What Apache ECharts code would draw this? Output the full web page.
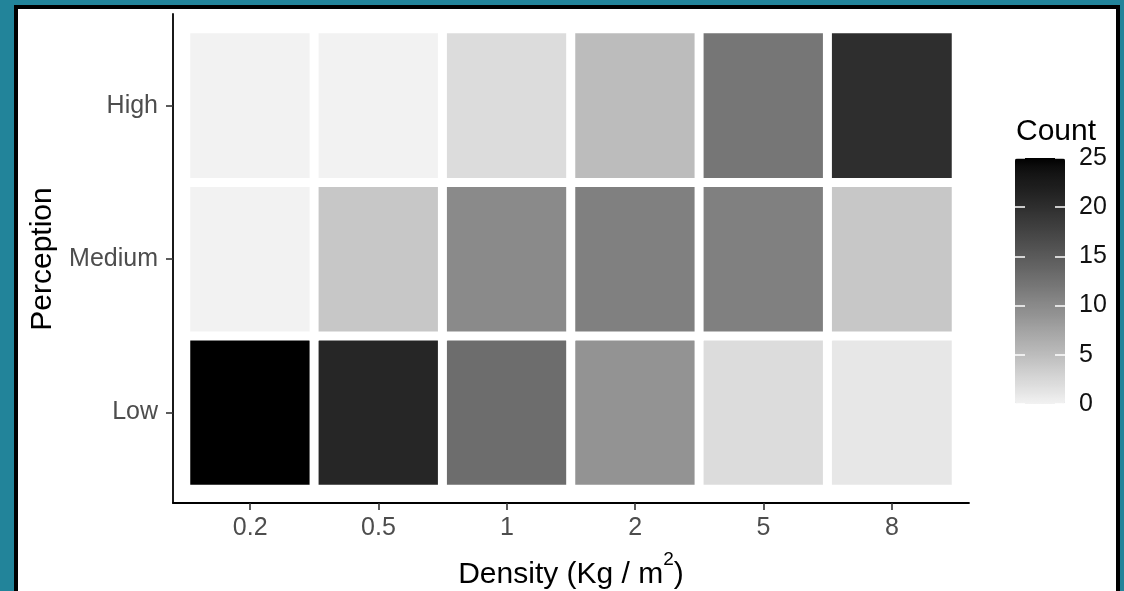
<!DOCTYPE html>
<html>
<head>
<meta charset="utf-8">
<script src="https://cdn.jsdelivr.net/npm/echarts@6/dist/echarts.min.js"></script>
<style>
  html, body { margin:0; padding:0; width:1124px; height:591px; overflow:hidden; background:#22849a; }
  #frame { position:absolute; left:14px; top:5px; width:1098px; height:640px; border:4px solid #000; background:#fff; }
  #chart { position:absolute; left:0; top:0; width:1124px; height:591px; }
</style>
</head>
<body>
<div id="frame"></div>
<div id="chart"></div>
<script>
// ---- data ----
const densities = ['0.2', '0.5', '1', '2', '5', '8'];
const perceptions = ['Low', 'Medium', 'High'];
const lowCounts = [25, 21, 13, 9, 2, 1];
const mediumCounts = [0, 4, 10, 11, 11, 4];
const highCounts = [0, 0, 2, 5, 12, 20];
const countTicks = [0, 5, 10, 15, 20, 25];

const countsByPerception = [lowCounts, mediumCounts, highCounts];
const heatData = [];
countsByPerception.forEach((row, yi) => {
  row.forEach((v, xi) => heatData.push([xi, yi, v]));
});

// grey gradient interpolated in Lab lightness (grey95 -> black)
function srgbToL(g) {
  const c = g / 255;
  const lin = c <= 0.04045 ? c / 12.92 : Math.pow((c + 0.055) / 1.055, 2.4);
  return lin > 0.008856 ? 116 * Math.cbrt(lin) - 16 : 903.3 * lin;
}
function lToHex(L) {
  const Y = L > 8 ? Math.pow((L + 16) / 116, 3) : L / 903.3;
  const s = Y <= 0.0031308 ? 12.92 * Y : 1.055 * Math.pow(Y, 1 / 2.4) - 0.055;
  const g = Math.max(0, Math.min(255, Math.round(s * 255)));
  const h = g.toString(16).padStart(2, '0');
  return '#' + h + h + h;
}
const L0 = srgbToL(242);
const stops = [];
for (let i = 0; i <= 25; i++) stops.push(lToHex(L0 * (1 - i / 25)));

const FONT = 'Liberation Sans, Arial, Helvetica, sans-serif';
const whiteTick = { show: true, inside: true, length: 10, lineStyle: { color: '#fff', width: 1.5 } };

const chart = echarts.init(document.getElementById('chart'), null, { renderer: 'canvas' });
chart.setOption({
  backgroundColor: 'transparent',
  animation: false,
  textStyle: { fontFamily: FONT },
  title: {
    text: 'Count', left: 1016, top: 117, padding: 0,
    textStyle: { fontFamily: FONT, fontSize: 30, fontWeight: 'normal', color: '#000' }
  },
  grid: [
    { left: 186, right: 168, top: 29, bottom: 102, outerBoundsMode: 'none', containLabel: false },
    { left: 173, right: 155, top: 14, bottom: 88, outerBoundsMode: 'none', containLabel: false },
    { left: 1015, top: 158, width: 50, height: 246, outerBoundsMode: 'none', containLabel: false },
    { left: 1055, top: 158, width: 10, height: 246, outerBoundsMode: 'none', containLabel: false }
  ],
  xAxis: [
    {
      type: 'category', gridIndex: 0, data: densities, offset: 14,
      axisLine: { show: false },
      axisTick: { show: true, alignWithLabel: true, length: 7, lineStyle: { color: '#333', width: 1.6 } },
      axisLabel: { color: '#4d4d4d', fontSize: 25, margin: 13, fontFamily: FONT },
      splitLine: { show: false },
      name: '{a|Density (Kg / m}{s|2}{a|)}', nameLocation: 'middle', nameGap: 47,
      nameTextStyle: {
        color: '#000', fontSize: 30, fontFamily: FONT,
        rich: {
          a: { fontSize: 30, lineHeight: 40, verticalAlign: 'bottom', color: '#000', fontFamily: FONT },
          s: { fontSize: 19, verticalAlign: 'top', color: '#000', fontFamily: FONT }
        }
      }
    },
    {
      type: 'value', gridIndex: 1, min: 0, max: 1,
      axisLine: { show: true, lineStyle: { color: '#000', width: 1.8 } },
      axisTick: { show: false }, axisLabel: { show: false }, splitLine: { show: false }
    },
    { type: 'value', gridIndex: 2, min: 0, max: 1, show: false },
    { type: 'value', gridIndex: 3, min: 0, max: 1, show: false }
  ],
  yAxis: [
    {
      type: 'category', gridIndex: 0, data: perceptions, offset: 13,
      axisLine: { show: false },
      axisTick: { show: true, alignWithLabel: true, length: 7, lineStyle: { color: '#333', width: 1.6 } },
      axisLabel: { color: '#4d4d4d', fontSize: 25, margin: 15, fontFamily: FONT },
      splitLine: { show: false },
      name: 'Perception', nameLocation: 'middle', nameGap: 113, nameRotate: 90,
      nameTextStyle: { color: '#000', fontSize: 30, fontFamily: FONT }
    },
    {
      type: 'value', gridIndex: 1, min: 0, max: 1,
      axisLine: { show: true, lineStyle: { color: '#000', width: 1.8 } },
      axisTick: { show: false }, axisLabel: { show: false }, splitLine: { show: false }
    },
    {
      // legend labels
      type: 'value', gridIndex: 2, position: 'right', min: 0, max: 25, interval: 5, z: 10,
      axisLine: { show: false },
      axisTick: { show: false },
      axisLabel: { color: '#111', fontSize: 25, margin: 14, fontFamily: FONT,
        formatter: v => countTicks.includes(v) ? String(v) : '' },
      splitLine: { show: false }
    },
    {
      // legend left ticks
      type: 'value', gridIndex: 2, position: 'left', min: 0, max: 25, interval: 5, z: 10,
      axisLine: { show: false }, axisTick: whiteTick, axisLabel: { show: false }, splitLine: { show: false }
    },
    {
      // legend right ticks
      type: 'value', gridIndex: 3, position: 'left', min: 0, max: 25, interval: 5, z: 10,
      axisLine: { show: false }, axisTick: whiteTick, axisLabel: { show: false }, splitLine: { show: false }
    }
  ],
  visualMap: {
    type: 'continuous', min: 0, max: 25, calculable: false, realtime: false,
    orient: 'vertical', left: 1015, top: 158, itemWidth: 50, itemHeight: 246,
    padding: 0, text: null, showLabel: false, hoverLink: false,
    inRange: { color: stops }, seriesIndex: 0
  },
  series: [{
    type: 'heatmap', xAxisIndex: 0, yAxisIndex: 0, data: heatData,
    itemStyle: { borderColor: '#fff', borderWidth: 9 },
    emphasis: { disabled: true },
    label: { show: false }
  }]
});
</script>
</body>
</html>
